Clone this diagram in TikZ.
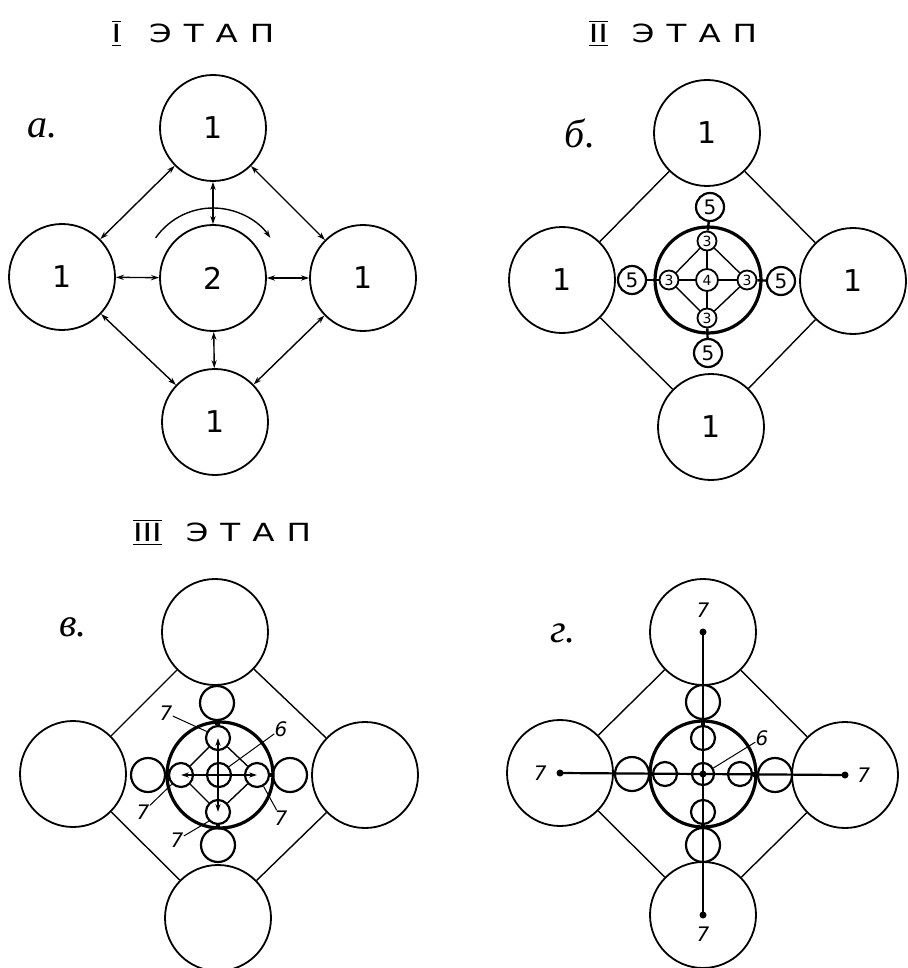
\documentclass[tikz,border=0pt]{standalone}
\usepackage{fontspec}
\setmainfont{DejaVu Sans}
\newfontfamily\lblfont{Liberation Serif}
\newfontfamily\ttlfont[FakeStretch=1.3]{DejaVu Sans}
\usepackage{tikz}
\usetikzlibrary{positioning,arrows.meta}
\newcommand{\rnum}[1]{$\overline{\underline{\mbox{#1}}}$}
\newcommand{\etap}{Э\hspace{6pt}Т\hspace{6pt}А\hspace{6pt}П}

\begin{document}
\begin{tikzpicture}[x=0.5pt,y=-0.5pt,>={Stealth[length=4pt,width=2.6pt]},
	every node/.style={inner sep=0pt},
	bigc/.style={circle,draw,line width=0.9pt,minimum size=53pt,font=\fontsize{15}{15}\selectfont},
	hubc/.style={circle,draw,line width=1.6pt,minimum size=53pt},
	fivec/.style={circle,draw,line width=1.1pt,minimum size=14pt,font=\fontsize{10}{10}\selectfont},
	threec/.style={circle,draw,line width=0.9pt,minimum size=9.5pt,font=\fontsize{7}{7}\selectfont},
	outc/.style={circle,draw,line width=1.1pt,minimum size=17pt},
	inc/.style={circle,draw,line width=1.1pt,minimum size=12pt},
	dot/.style={circle,fill,minimum size=3.5pt},
	lbl/.style={font=\lblfont\itshape\fontsize{20}{20}\selectfont},
	ttl/.style={font=\ttlfont\fontsize{12.5}{12.5}\selectfont},
	num/.style={font=\itshape\fontsize{10}{10}\selectfont},
	link/.style={line width=0.7pt},
	lead/.style={line width=0.5pt}]
	\useasboundingbox (0,0) rectangle (908,968);
	% stage I
	\node[ttl] (ttlA) at (193,33) {\rnum{I}\hspace{14pt}\etap};
	\node[lbl] (lblA) at (42,128) {а.};
	\node[bigc] (aC) at (213,278) {2};
	\node[bigc] (aT) at (213,128) {1};
	\node[bigc] (aL) at (62,277) {1};
	\node[bigc] (aR) at (363,278) {1};
	\node[bigc] (aB) at (215,422) {1};
	\foreach \n in {aT,aL,aR,aB}{\draw[<->,link] (aC) -- (\n);}
	\foreach \p/\q in {aT/aL,aT/aR,aL/aB,aR/aB}{\draw[<->,link] (\p) -- (\q);}
	\draw[->,link] ([shift={(145:35pt)}]aC.center) arc[start angle=145,end angle=35,radius=35pt];
	% stage II
	\node[ttl] (ttlB) at (673,33) {\rnum{II}\hspace{12pt}\etap};
	\node[lbl] (lblB) at (580,133) {б.};
	\node[hubc] (bC) at (708,280) {};
	\node[bigc] (bT) at (707,133) {1};
	\node[bigc] (bL) at (562,280) {1};
	\node[bigc] (bR) at (853,281) {1};
	\node[bigc] (bB) at (711,427) {1};
	\foreach \p/\q in {bT/bL,bT/bR,bL/bB,bR/bB}{\draw[link] (\p) -- (\q);}
	\node[fivec] (b5t) at (710,207) {5};
	\node[fivec] (b5l) at (632,280) {5};
	\node[fivec] (b5r) at (781,281) {5};
	\node[fivec] (b5b) at (708,353) {5};
	\node[threec] (b3t) at (707,241) {3};
	\node[threec] (b3l) at (669,280) {3};
	\node[threec] (b3r) at (747,280) {3};
	\node[threec] (b3b) at (707,318) {3};
	\node[threec,minimum size=11pt] (b4) at (707,280) {4};
	\foreach \n in {b3t,b3l,b3r,b3b}{\draw[link] (b4) -- (\n);}
	\foreach \p/\q in {b3t/b3l,b3t/b3r,b3b/b3l,b3b/b3r}{\draw[link] (\p) -- (\q);}
	\foreach \p/\q in {b5t/b3t,b5l/b3l,b5r/b3r,b5b/b3b}{\draw[line width=1.2pt] (\p) -- (\q);}
	% stage III, variant v
	\node[ttl] (ttlC) at (222,532) {\rnum{III}\hspace{12pt}\etap};
	\node[lbl] (lblC) at (73,627) {в.};
	\node[hubc] (vC) at (220,775) {};
	\node[bigc] (vT) at (215,632) {};
	\node[bigc] (vL) at (73,774) {};
	\node[bigc] (vR) at (365,775) {};
	\node[bigc] (vB) at (218,918) {};
	\foreach \p/\q in {vT/vL,vT/vR,vL/vB,vR/vB}{\draw[link] (\p) -- (\q);}
	\node[outc] (vOt) at (217,703) {};
	\node[outc] (vOl) at (148,775) {};
	\node[outc] (vOr) at (290,775) {};
	\node[outc] (vOb) at (218,845) {};
	\node[inc] (vIt) at (218,738) {};
	\node[inc] (vIl) at (181,775) {};
	\node[inc] (vIr) at (257,775) {};
	\node[inc] (vIb) at (218,812) {};
	\node[inc] (vIc) at (219,775) {};
	\draw[<->,link] (vIl.center) -- (vIr.center);
	\draw[<->,link] (vIt.center) -- (vIb.center);
	\foreach \p/\q in {vIt/vIl,vIt/vIr,vIb/vIl,vIb/vIr}{\draw[link] (\p) -- (\q);}
	\foreach \p/\q in {vOt/vIt,vOl/vIl,vOr/vIr,vOb/vIb}{\draw[line width=2.4pt] (\p) -- (\q);}
	\node[num] (v7a) at (166,713) {7};
	\draw[lead] (v7a) -- (vIt.150);
	\node[num] (v6) at (281,729) {6};
	\draw[lead] (v6) -- (vIc.40);
	\node[num] (v7b) at (143,812) {7};
	\draw[lead] (v7b) -- (vIl.225);
	\node[num] (v7c) at (177,840) {7};
	\draw[lead] (v7c) -- (vIb.225);
	\node[num] (v7d) at (281,818) {7};
	\draw[lead] (v7d) -- (vIr.-60);
	% stage III, variant g
	\node[lbl] (lblD) at (563,633) {г.};
	\node[hubc] (gC) at (703,774) {};
	\node[bigc] (gT) at (703,632) {};
	\node[bigc] (gL) at (560,773) {};
	\node[bigc] (gR) at (845,775) {};
	\node[bigc] (gB) at (703,915) {};
	\foreach \p/\q in {gT/gL,gT/gR,gL/gB,gR/gB}{\draw[link] (\p) -- (\q);}
	\node[outc] (gOt) at (703,702) {};
	\node[outc] (gOl) at (632,774) {};
	\node[outc] (gOr) at (775,775) {};
	\node[outc] (gOb) at (703,845) {};
	\node[inc] (gIt) at (703,738) {};
	\node[inc] (gIl) at (665,774) {};
	\node[inc] (gIr) at (740,774) {};
	\node[inc] (gIb) at (703,812) {};
	\node[inc,minimum size=11pt] (gIc) at (703,774) {};
	\node[dot] (gTd) at (gT.center) {};
	\node[dot] (gLd) at (gL.center) {};
	\node[dot] (gRd) at (gR.center) {};
	\node[dot] (gBd) at (gB.center) {};
	\node[dot] (gCd) at (gIc.center) {};
	\draw[line width=1.1pt] (gLd.center) -- (gRd.center);
	\draw[line width=1.1pt] (gTd.center) -- (gBd.center);
	\foreach \p/\q in {gOt/gIt,gOl/gIl,gOr/gIr,gOb/gIb}{\draw[line width=2.4pt] (\p) -- (\q);}
	\node[num,above=5pt of gTd] (g7t) {7};
	\node[num,left=4.5pt of gLd] (g7l) {7};
	\node[num,right=4pt of gRd] (g7r) {7};
	\node[num,below=4pt of gBd] (g7b) {7};
	\node[num] (g6) at (762,738) {6};
	\draw[lead] (g6) -- (gIc.30);
\end{tikzpicture}
\end{document}
